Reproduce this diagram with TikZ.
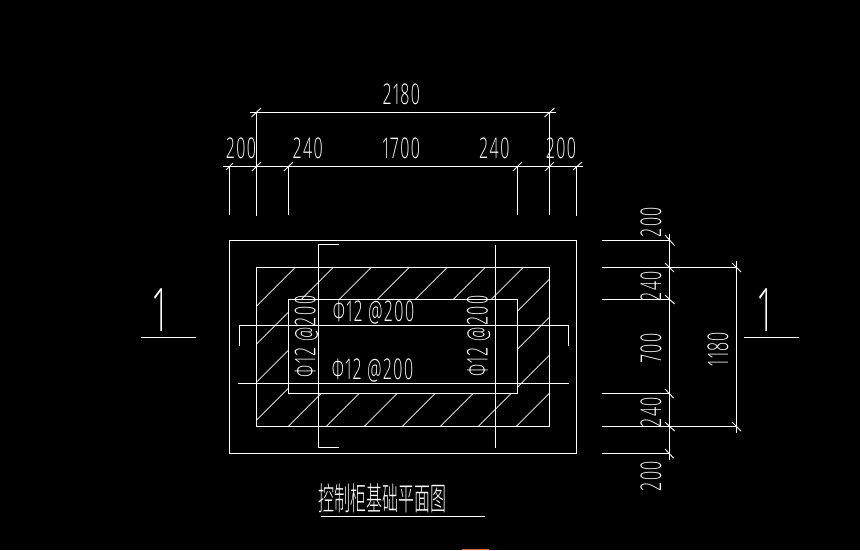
\documentclass[tikz,border=0pt]{standalone}
\usepackage{fontspec}
\newfontfamily\cadfont[FakeStretch=0.56,LetterSpace=5,Numbers=Proportional,UprightFont=* Light]{Open Sans}
\newfontfamily\cjkfont[FakeStretch=0.5,UprightFont=* Light]{Noto Sans CJK SC}
\usetikzlibrary{positioning}
\definecolor{sliver}{RGB}{205,105,50}

\begin{document}
\begin{tikzpicture}[x=1pt, y=1pt, white, line width=0.9pt,
    hatchline/.style={line width=0.7pt},
    dimtext/.style={inner sep=0pt, font=\cadfont\fontsize{28.5}{29}\selectfont},
    vdimtext/.style={dimtext, rotate=90},
    rebartext/.style={inner sep=0pt, font=\cadfont\fontsize{28.5}{29}\selectfont},
    vrebartext/.style={rebartext, rotate=90},
    sectiontext/.style={inner sep=0pt, font=\cadfont\fontsize{60}{60}\selectfont},
    titletext/.style={inner sep=0pt, font=\cjkfont\fontsize{32}{33}\selectfont}]

\fill[black] (0,0) rectangle (860,-550);
\useasboundingbox (0,0) rectangle (860,-550);

\begin{scope}
\clip (256.5,-267.5) rectangle (549.5,-426.5);
\draw[hatchline] (295.2,-267.5) -- (136.2,-426.5);
\draw[hatchline] (333.2,-267.5) -- (174.2,-426.5);
\draw[hatchline] (371.2,-267.5) -- (212.2,-426.5);
\draw[hatchline] (409.2,-267.5) -- (250.2,-426.5);
\draw[hatchline] (447.2,-267.5) -- (288.2,-426.5);
\draw[hatchline] (485.2,-267.5) -- (326.2,-426.5);
\draw[hatchline] (523.2,-267.5) -- (364.2,-426.5);
\draw[hatchline] (561.2,-267.5) -- (402.2,-426.5);
\draw[hatchline] (599.2,-267.5) -- (440.2,-426.5);
\draw[hatchline] (637.2,-267.5) -- (478.2,-426.5);
\draw[hatchline] (675.2,-267.5) -- (516.2,-426.5);
\end{scope}

\draw[fill=black] (288.5,-299.5) rectangle (517.5,-393.5);
\draw (256.5,-267.5) rectangle (549.5,-426.5);
\draw (229.5,-240.5) rectangle (576.5,-453.5);

\draw (338.5,-244.5) -- (318.5,-244.5) -- (318.5,-447.5) -- (338.5,-447.5);
\draw (495.5,-244.5) -- (495.5,-447.5);
\draw (239.5,-345.5) -- (239.5,-325.5) -- (568.5,-325.5) -- (568.5,-345.5);
\draw (238,-383.5) -- (569,-383.5);

\draw (249.5,-112.5) -- (556,-112.5);
\draw (223,-166.5) -- (583,-166.5);
\draw (229.5,-166.5) -- (229.5,-215);
\draw (256.5,-112.5) -- (256.5,-215.5);
\draw (288.5,-166.5) -- (288.5,-215);
\draw (517.5,-166.5) -- (517.5,-215);
\draw (549.5,-112.5) -- (549.5,-215);
\draw (576.5,-166.5) -- (576.5,-215.5);

\draw (251.5,-117) -- (261,-108);
\draw (544.5,-117) -- (554.5,-108);
\draw (226,-170) -- (233,-163);
\draw (252,-171) -- (261,-162);
\draw (284,-171) -- (293,-162);
\draw (513,-171) -- (522,-162);
\draw (545,-171) -- (554,-162);
\draw (573,-170) -- (582,-162);

\draw (602,-240.5) -- (669.5,-240.5);
\draw (602,-267.5) -- (736.5,-267.5);
\draw (602,-299.5) -- (669.5,-299.5);
\draw (602,-393.5) -- (669.5,-393.5);
\draw (602,-426.5) -- (736.5,-426.5);
\draw (602,-453.5) -- (669.5,-453.5);
\draw (669.5,-234) -- (669.5,-459.5);
\draw (736.5,-261) -- (736.5,-432.5);

\draw (665,-235) -- (674.5,-245.5);
\draw (665,-263) -- (674,-272);
\draw (665,-295) -- (674.5,-304);
\draw (665,-389) -- (673.5,-398);
\draw (665,-422) -- (674.5,-431);
\draw (665,-449) -- (673.5,-458);
\draw (732,-263) -- (741,-272);
\draw (732,-422) -- (741,-431);

\draw (141,-337.5) -- (196,-337.5);
\draw (744,-337.5) -- (799,-337.5);
\draw (321,-516.5) -- (485,-516.5);

\node[dimtext] (total)      at (401.3,-94)   {2180};
\node[dimtext] (edgeL)      at (241,-148)    {200};
\node[dimtext] (stepL)      at (307.7,-148)  {240};
\node[dimtext] (middle)     at (401.3,-148)  {1700};
\node[dimtext] (stepR)      at (494.3,-148)  {240};
\node[dimtext] (edgeR)      at (561,-148)    {200};

\node[vdimtext] (edgeT)     at (651,-222)    {200};
\node[vdimtext] (stepT)     at (651,-286)    {240};
\node[vdimtext] (height)    at (651,-348.5)  {700};
\node[vdimtext] (stepB)     at (651,-412)    {240};
\node[vdimtext] (edgeB)     at (651,-476)    {200};
\node[vdimtext] (totalV)    at (718,-349)    {1180};

\node[rebartext] (barT)     at (373.5,-312.5) {Φ12 @200};
\node[rebartext] (barB)     at (372.5,-370.7) {Φ12 @200};
\node[vrebartext] (barL)    at (306.3,-336.5) {Φ12 @200};
\node[vrebartext] (barR)    at (478.7,-336.3) {Φ12 @200};

\node[sectiontext] (sectionL) at (159.5,-310.5) {1};
\node[sectiontext] (sectionR) at (764.5,-310.5) {1};

\node[titletext] (title)    at (382.5,-498)  {控制柜基础平面图};

\fill[sliver] (462,-549) rectangle (489,-550);

\end{tikzpicture}
\end{document}
